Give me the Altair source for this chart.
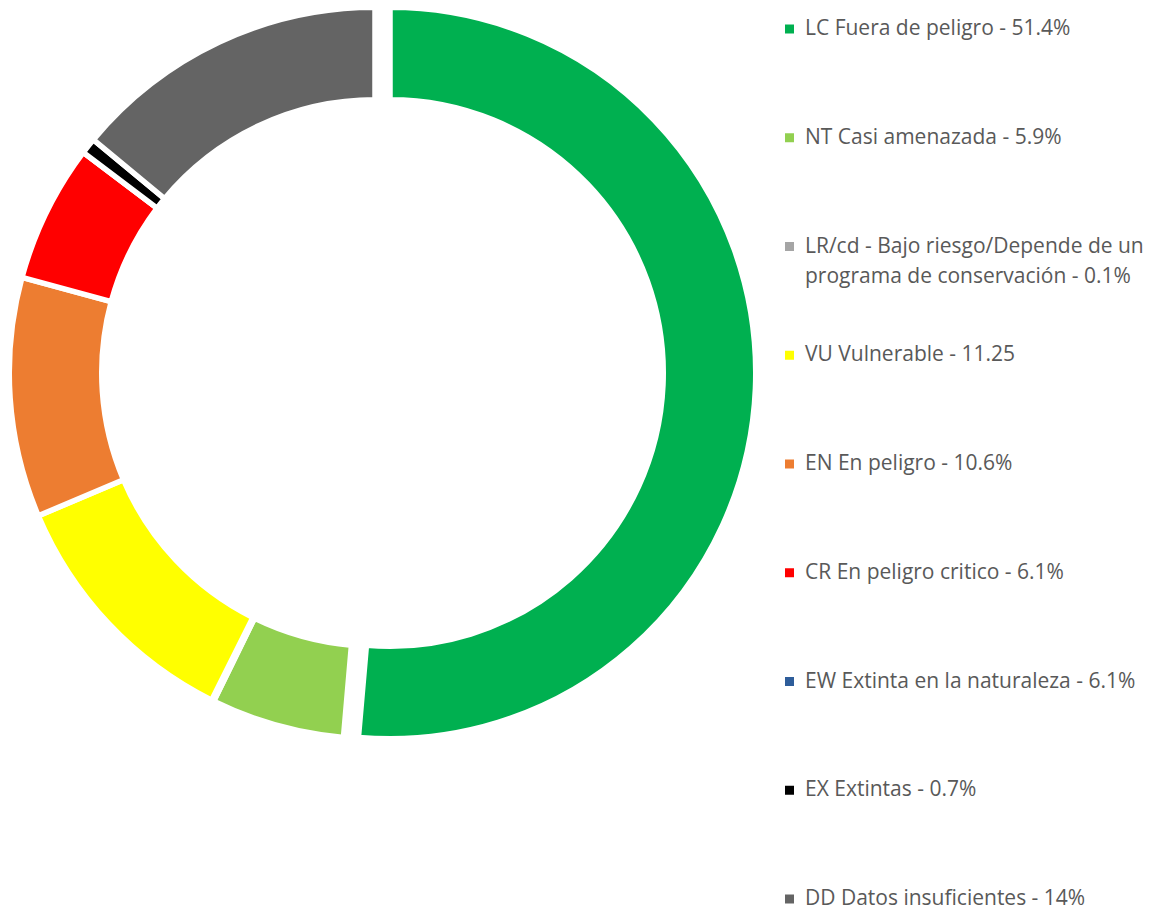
import altair as alt
import pandas as pd

categorias = [
    "LC Fuera de peligro - 51.4%",
    "NT Casi amenazada - 5.9%",
    "LR/cd - Bajo riesgo/Depende de un\nprograma de conservación - 0.1%",
    "VU Vulnerable - 11.25",
    "EN En peligro - 10.6%",
    "CR En peligro critico - 6.1%",
    "EW Extinta en la naturaleza - 6.1%",
    "EX Extintas - 0.7%",
    "DD Datos insuficientes - 14%",
]
valores = [51.4, 5.9, 0.1, 11.25, 10.6, 6.1, 0.0, 0.7, 14.0]
colores = ["#00B050", "#92D050", "#A5A5A5", "#FFFF00", "#ED7D31",
           "#FF0000", "#2E5D9A", "#000000", "#646464"]
destacada = "LC Fuera de peligro - 51.4%"

df = pd.DataFrame({
    "categoria": categorias,
    "valor": valores,
    "orden": list(range(len(categorias))),
})
total = sum(valores)

FUENTE = 21
INTERLINEA = 30
R_EXT = 365.75
R_INT = 273.25

leyenda = alt.Legend(
    title=None,
    orient="none",
    legendX=771,
    legendY=10.5,
    direction="vertical",
    symbolType="square",
    symbolSize=81,
    symbolStrokeWidth=0,
    labelFont="Open Sans",
    labelFontSize=FUENTE,
    labelColor="#595959",
    labelOffset=5,
    labelLimit=0,
    rowPadding=56.75,
    padding=0,
    labelExpr="length(split(datum.label, '\\n')) > 1 ? split(datum.label, '\\n') : [datum.label, '']",
)

color = alt.Color(
    "categoria:N",
    scale=alt.Scale(domain=categorias, range=colores),
    sort=categorias,
    legend=leyenda,
)

base = (
    alt.Chart(df)
    .transform_window(fin="sum(valor)", sort=[alt.SortField("orden")], frame=[None, 0])
    .transform_calculate(inicio="datum.fin - datum.valor")
)

enc = dict(
    theta=alt.Theta("inicio:Q", scale=alt.Scale(domain=[0, total])),
    theta2="fin:Q",
    color=color,
)

resto = base.transform_filter(alt.datum.categoria != destacada).mark_arc(
    radius=R_EXT, radius2=R_INT, stroke="white", strokeWidth=5.5
).encode(**enc)

lc = base.transform_filter(alt.datum.categoria == destacada).mark_arc(
    radius=R_EXT, radius2=R_INT, stroke="white", strokeWidth=5.5, xOffset=15
).encode(**enc)

chart = (
    alt.layer(resto, lc)
    .properties(
        width=734,
        height=730,
        autosize=alt.AutoSizeParams(type="none"),
        padding={"left": 0, "top": 0, "right": 403, "bottom": 176},
    )
    .configure(style={"guide-label": {"lineHeight": INTERLINEA}})
    .configure_view(stroke=None)
)

chart.save("out.html", embed_options={"renderer": "svg", "actions": False})
